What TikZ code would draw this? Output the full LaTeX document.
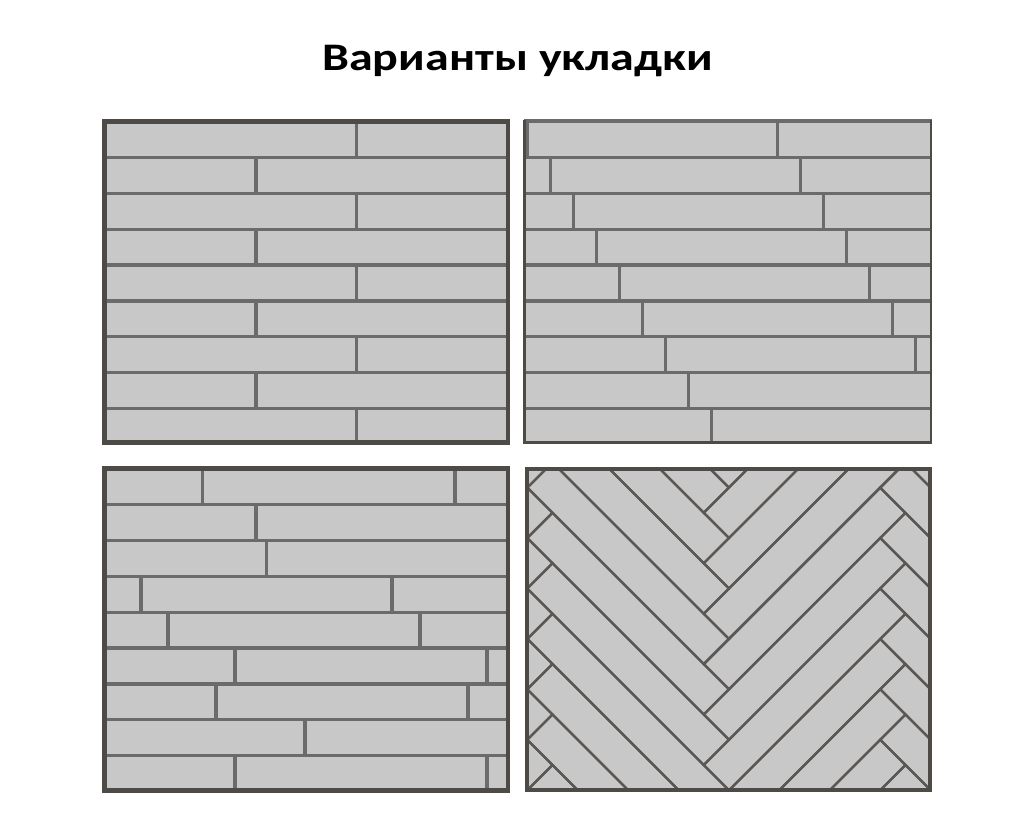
\documentclass[tikz,border=0pt]{standalone}
\usepackage{fontspec}
\setmainfont{Carlito}
\definecolor{tile}{HTML}{C8C8C8}
\definecolor{grout}{HTML}{6B6B6B}
\definecolor{frame}{HTML}{4E4A46}
\definecolor{hgrout}{HTML}{5A5754}
\tikzset{
  groutline/.style={draw=grout, line width=3.3pt},
  hbline/.style={draw=hgrout, line width=2.3pt, line join=miter},
  frameline/.style={draw=frame, line width=4.5pt},
}
\begin{document}
\begin{tikzpicture}[x=1pt,y=-1pt]
\useasboundingbox (0,0) rectangle (1035,812);
\node[font=\bfseries\fontsize{39}{47}\selectfont, anchor=base, inner sep=0pt] (title) at (517.5,70) {\scalebox{1.23}[1]{Варианты укладки}};

% ---------- panel 1 ----------
\fill[tile] (104.5,121.3) rectangle (508.2,442.5);
\foreach \i in {1,...,8} {\draw[groutline] (104.5,{121.9+35.8*\i}) -- (508.2,{121.9+35.8*\i});}
\foreach \rw/\xv in {0/356.7,1/256,2/356.7,3/256,4/356.7,5/256,6/356.7,7/256,8/356.7}
  {\draw[groutline] (\xv,{121.9+35.8*\rw}) -- (\xv,{121.9+35.8*(\rw+1)});}
\draw[frameline] (104.5,121.3) rectangle (508.2,442.5);

% ---------- panel 2 ----------
\begin{scope}
\clip (524.7,121.3) rectangle (931,442.8);
\fill[tile] (524.7,121.3) rectangle (931,442.8);
\foreach \i in {1,...,8} {\draw[groutline] (524.7,{121.9+35.8*\i}) -- (931,{121.9+35.8*\i});}
\foreach \rw in {0,...,8} {
  \pgfmathsetmacro\xa{527.7+23*\rw}
  \pgfmathsetmacro\xb{777.7+23*\rw}
  \draw[groutline] (\xa,{121.9+35.8*\rw}) -- (\xa,{121.9+35.8*(\rw+1)});
  \draw[groutline] (\xb,{121.9+35.8*\rw}) -- (\xb,{121.9+35.8*(\rw+1)});
}
\end{scope}
\draw[grout, line width=4pt] (523.5,121.3) -- (932,121.3);
\draw[frame, line width=3pt] (524.7,119.5) -- (524.7,442.8) -- (931,442.8);
\draw[frame, line width=2pt] (931,119.5) -- (931,444);

% ---------- panel 3 ----------
\fill[tile] (104.5,468.5) rectangle (508.2,790.5);
\foreach \i in {1,...,8} {\draw[groutline] (104.5,{468.8+35.85*\i}) -- (508.2,{468.8+35.85*\i});}
\foreach \rw/\xv in {0/202.7,0/455,1/256,2/266.3,3/141,3/392,4/168,4/420,5/235,5/487,6/216,6/468,7/305,8/235,8/487}
  {\draw[groutline] (\xv,{468.8+35.85*\rw}) -- (\xv,{468.8+35.85*(\rw+1)});}
\draw[frameline] (104.5,468.5) rectangle (508.2,790.5);

% ---------- panel 4 (herringbone) ----------
\begin{scope}
\clip (527,469) rectangle (929.7,789.7);
\fill[tile] (527,469) rectangle (929.7,789.7);
\foreach \m in {-1,0,1} {
  \foreach \j in {-10,...,7} {
    % boards running down-right
    \pgfmathsetmacro\ca{-39.67+50.42*\j}
    \pgfmathsetmacro\cb{\ca+50.42}
    \pgfmathsetmacro\sa{\ca+1105+705.88*\m}
    \pgfmathsetmacro\sb{\sa+352.94}
    \draw[hbline] ({(\sa-\ca)/2},{(\sa+\ca)/2}) -- ({(\sb-\ca)/2},{(\sb+\ca)/2})
      -- ({(\sb-\cb)/2},{(\sb+\cb)/2}) -- ({(\sa-\cb)/2},{(\sa+\cb)/2}) -- cycle;
    % boards running up-right
    \pgfmathsetmacro\ta{-39.67+1105+50.42*(\j+7)}
    \pgfmathsetmacro\tb{\ta+50.42}
    \pgfmathsetmacro\da{-39.67+50.42*(\j-6)+705.88*\m}
    \pgfmathsetmacro\db{-39.67+50.42*(\j+1)+705.88*\m}
    \draw[hbline] ({(\ta-\da)/2},{(\ta+\da)/2}) -- ({(\tb-\da)/2},{(\tb+\da)/2})
      -- ({(\tb-\db)/2},{(\tb+\db)/2}) -- ({(\ta-\db)/2},{(\ta+\db)/2}) -- cycle;
  }
}
\end{scope}
\draw[frame, line width=4pt] (527,469) rectangle (929.7,789.7);
\end{tikzpicture}
\end{document}
